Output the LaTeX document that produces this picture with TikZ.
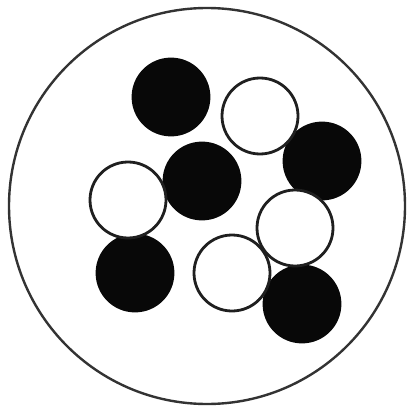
\documentclass[tikz,border=0pt]{standalone}
\begin{document}
\begin{tikzpicture}[x=1pt,y=-1pt,
  ball/.style={circle,inner sep=0pt,minimum size=76pt,line width=2.8pt},
  solid ball/.style={ball,draw=black!97,fill=black!97},
  open ball/.style={ball,draw=black!88,fill=white},
  vessel/.style={circle,inner sep=0pt,minimum size=396pt,line width=2.4pt,draw=black!80}]
\useasboundingbox (0,0) rectangle (406,414);
\node[vessel] (outer) at (207,206) {};
\node[solid ball] (b1) at (171,97) {};
\node[solid ball] (b2) at (202,181) {};
\node[solid ball] (b3) at (322,161) {};
\node[solid ball] (b4) at (135,273) {};
\node[solid ball] (b5) at (302,304) {};
\node[open ball] (w1) at (260,116) {};
\node[open ball] (w2) at (128,200) {};
\node[open ball] (w3) at (295,228) {};
\node[open ball] (w4) at (232,273) {};
\end{tikzpicture}
\end{document}
